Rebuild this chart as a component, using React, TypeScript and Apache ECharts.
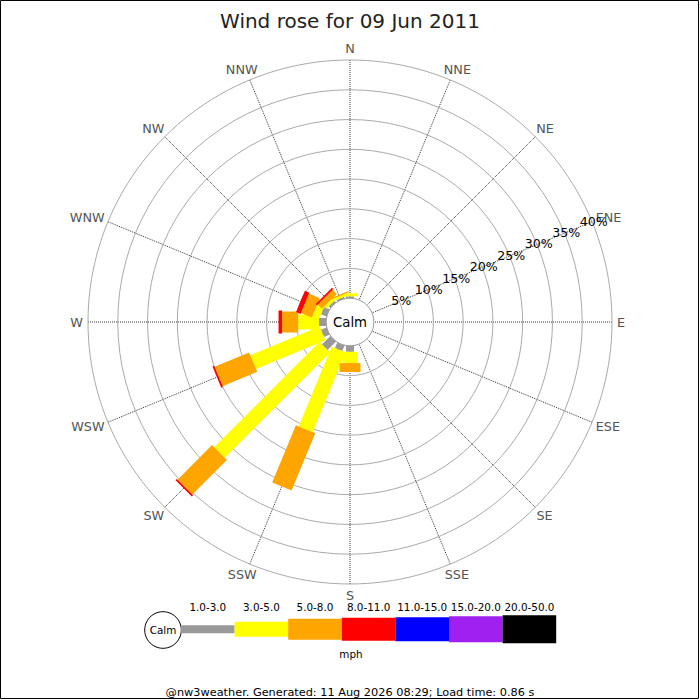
import React, { useEffect, useRef } from 'react';
import * as echarts from 'echarts';

// ---------- data ----------
const titleText = 'Wind rose for 09 Jun 2011';
const footerText = '@nw3weather. Generated: 11 Aug 2026 08:29; Load time: 0.86 s';
const calmLabel = 'Calm';
const unitLabel = 'mph';

const directions = ['N', 'NNE', 'NE', 'ENE', 'E', 'ESE', 'SE', 'SSE', 'S', 'SSW', 'SW', 'WSW', 'W', 'WNW', 'NW', 'NNW'];
const speedRanges = ['1.0-3.0', '3.0-5.0', '5.0-8.0', '8.0-11.0', '11.0-15.0', '15.0-20.0', '20.0-50.0'];

// percentage of time per direction for each speed range (order = directions)
const pct1to3 = [0.3, 0, 0, 0, 0, 0, 0, 0, 1.0, 1.0, 2.0, 1.0, 1.2, 1.0, 0.4, 0.3];
const pct3to5 = [0.5, 0, 0, 0, 0, 0, 0, 0, 1.9, 14.5, 25.0, 12.6, 3.5, 1.2, 0.5, 0.4];
const pct5to8 = [0, 0, 0, 0, 0, 0, 0, 0, 1.5, 10.4, 8.2, 6.3, 2.7, 2.0, 1.0, 0.2];
const pct8to11 = [0, 0, 0, 0, 0, 0, 0, 0, 0, 0, 0.3, 0.3, 0.6, 0.8, 0.3, 0];
const pct11to15 = [0, 0, 0, 0, 0, 0, 0, 0, 0, 0, 0, 0, 0, 0, 0, 0];
const pct15to20 = [0, 0, 0, 0, 0, 0, 0, 0, 0, 0, 0, 0, 0, 0, 0, 0];
const pct20to50 = [0, 0, 0, 0, 0, 0, 0, 0, 0, 0, 0, 0, 0, 0, 0, 0];

const ringTicks = [5, 10, 15, 20, 25, 30, 35, 40];
const radiusLabelDirection = 'ENE';

// ---------- styles ----------
const rangeColors = ['#999999', '#ffff00', '#ffa500', '#ff0000', '#0000ff', '#a020f0', '#000000'];
const rangeWidths = [8, 15, 21, 23, 24, 26, 28];
const FONT = 'DejaVu Sans';
const DIR_FONT_SIZE = 12.8;
const DIR_LABEL_GAP = 5;
const RMIN = -4; // radius-axis value at the centre (calm circle = 0 %)
const RMAX = 40;

const allRanges = [pct1to3, pct3to5, pct5to8, pct8to11, pct11to15, pct15to20, pct20to50];

function buildLegData() {
  const out: number[][][] = allRanges.map(() => []);
  directions.forEach((_, d) => {
    let cum = 0;
    allRanges.forEach((arr, s) => {
      const v = arr[d];
      if (v > 0) {
        const start = cum === 0 ? RMIN : cum;
        out[s].push([d, start, cum + v]);
        cum += v;
      }
    });
  });
  return out;
}

function measure(text: string, size: number) {
  const cv = document.createElement('canvas');
  const ctx = cv.getContext('2d');
  if (!ctx) return text.length * size * 0.65;
  ctx.font = `${size}px "${FONT}"`;
  return ctx.measureText(text).width;
}

export default function App() {
  const ref = useRef<HTMLDivElement>(null);

  useEffect(() => {
    document.body.style.margin = '0';
    if (!ref.current) return;
    const chart = echarts.init(ref.current, undefined, { renderer: 'svg' });
    const legData = buildLegData();
    const enIdx = directions.indexOf(radiusLabelDirection);
    const dirWidths = directions.map((d) => measure(d, DIR_FONT_SIZE));

    const legSeries = legData.map((data, s) => ({
      type: 'custom',
      coordinateSystem: 'polar',
      silent: true,
      z: 3,
      dimensions: ['dir', 'from', 'to'],
      encode: { angle: 0, radius: [1, 2] },
      data,
      renderItem: (params: any, api: any) => {
        const d = api.value(0);
        const r0 = api.value(1);
        const r1 = api.value(2);
        const c = api.coord([RMIN, d]);
        const a = api.coord([r0, d]);
        const b = api.coord([r1, d]);
        let ux = b[0] - c[0];
        let uy = b[1] - c[1];
        const L = Math.hypot(ux, uy) || 1;
        ux /= L;
        uy /= L;
        const h = rangeWidths[s] / 2;
        const nx = -uy * h;
        const ny = ux * h;
        return {
          type: 'polygon',
          shape: {
            points: [
              [a[0] + nx, a[1] + ny],
              [b[0] + nx, b[1] + ny],
              [b[0] - nx, b[1] - ny],
              [a[0] - nx, a[1] - ny],
            ],
          },
          style: { fill: rangeColors[s] },
        };
      },
    }));

    const ringSeries = {
      type: 'custom',
      coordinateSystem: 'polar',
      silent: true,
      z: 1,
      dimensions: ['dir', 'r'],
      encode: { angle: 0, radius: 1 },
      data: ringTicks.map((v) => [0, v]),
      renderItem: (params: any, api: any) => {
        const c = api.coord([RMIN, 0]);
        const p = api.coord([api.value(1), 0]);
        return {
          type: 'circle',
          shape: { cx: c[0], cy: c[1], r: Math.hypot(p[0] - c[0], p[1] - c[1]) },
          style: { fill: 'none', stroke: '#aaaaaa', lineWidth: 1 },
        };
      },
    };

    const dirLabelSeries = {
      type: 'custom',
      coordinateSystem: 'polar',
      silent: true,
      z: 6,
      dimensions: ['dir', 'r'],
      encode: { angle: 0, radius: 1 },
      data: directions.map((_, i) => [i, RMAX]),
      renderItem: (params: any, api: any) => {
        const i = params.dataIndex;
        const c = api.coord([RMIN, i]);
        const o = api.coord([RMAX, i]);
        let ux = o[0] - c[0];
        let uy = o[1] - c[1];
        const L = Math.hypot(ux, uy) || 1;
        ux /= L;
        uy /= L;
        const w = dirWidths[i];
        const h = DIR_FONT_SIZE;
        const x = o[0] + ux * DIR_LABEL_GAP + (ux * w) / 2;
        const y = o[1] + uy * DIR_LABEL_GAP + (uy * h) / 2;
        return {
          type: 'text',
          x,
          y,
          style: {
            text: directions[i],
            fill: '#555',
            fontSize: DIR_FONT_SIZE,
            fontFamily: FONT,
            align: 'center',
            verticalAlign: 'middle',
          },
        };
      },
    };

    const ringLabelSeries = {
      type: 'custom',
      coordinateSystem: 'polar',
      silent: true,
      z: 7,
      dimensions: ['dir', 'r'],
      encode: { angle: 0, radius: 1 },
      data: ringTicks.map((v) => [enIdx, v]),
      renderItem: (params: any, api: any) => {
        const p = api.coord([api.value(1) + 0.3, api.value(0)]);
        return {
          type: 'text',
          x: p[0],
          y: p[1],
          style: {
            text: ringTicks[params.dataIndex] + '%',
            fill: '#000',
            fontSize: 12.6,
            fontFamily: FONT,
            align: 'center',
            verticalAlign: 'middle',
          },
        };
      },
    };

    const calmSeries = {
      type: 'custom',
      coordinateSystem: 'polar',
      silent: true,
      z: 5,
      dimensions: ['dir', 'r'],
      encode: { angle: 0, radius: 1 },
      data: [[0, 0]],
      renderItem: (params: any, api: any) => {
        const c = api.coord([RMIN, 0]);
        const e = api.coord([0, 0]);
        const r = Math.hypot(e[0] - c[0], e[1] - c[1]);
        return {
          type: 'group',
          children: [
            {
              type: 'circle',
              shape: { cx: c[0], cy: c[1], r },
              style: { fill: '#fff', stroke: '#999', lineWidth: 1 },
            },
            {
              type: 'text',
              x: c[0],
              y: c[1],
              style: {
                text: calmLabel,
                fill: '#000',
                fontSize: 13.3,
                fontFamily: FONT,
                align: 'center',
                verticalAlign: 'middle',
              },
            },
          ],
        };
      },
    };

    // legend graphics
    const legX0 = 181;
    const legStep = 53.6;
    const legCy = 629.3;
    const legendEls: any[] = [
      {
        type: 'circle',
        shape: { cx: 163, cy: 630, r: 18.3 },
        style: { fill: '#fff', stroke: '#000', lineWidth: 1 },
      },
      {
        type: 'text',
        x: 163,
        y: 630,
        style: { text: calmLabel, fill: '#000', fontSize: 10.4, fontFamily: FONT, align: 'center', verticalAlign: 'middle' },
      },
    ];
    speedRanges.forEach((lab, i) => {
      const x = legX0 + i * legStep;
      legendEls.push({
        type: 'rect',
        shape: { x, y: legCy - rangeWidths[i] / 2, width: legStep, height: rangeWidths[i] },
        style: { fill: rangeColors[i] },
      });
      legendEls.push({
        type: 'text',
        x: x + legStep / 2,
        y: 606.7,
        style: { text: lab, fill: '#000', fontSize: 10.4, fontFamily: FONT, align: 'center', verticalAlign: 'middle' },
      });
    });
    legendEls.push({
      type: 'text',
      x: 351,
      y: 654,
      style: { text: unitLabel, fill: '#000', fontSize: 10.4, fontFamily: FONT, align: 'center', verticalAlign: 'middle' },
    });

    chart.setOption({
      animation: false,
      backgroundColor: '#fff',
      title: {
        text: titleText,
        left: 'center',
        top: 6,
        textStyle: { fontSize: 20, fontWeight: 'normal', color: '#222', fontFamily: FONT },
      },
      polar: { center: [350, 322], radius: 262 },
      radiusAxis: {
        type: 'value',
        min: RMIN,
        max: RMAX,
        show: false,
      },
      angleAxis: {
        type: 'category',
        data: directions,
        boundaryGap: false,
        startAngle: 90,
        clockwise: true,
        axisLine: { show: false },
        axisTick: { show: false },
        axisLabel: { show: false },
        splitLine: { show: true, interval: 0, lineStyle: { color: '#333', type: 'dotted', width: 1 } },
      },
      series: [ringSeries, ...legSeries, calmSeries, dirLabelSeries, ringLabelSeries],
      graphic: [
        {
          type: 'rect',
          shape: { x: 0.5, y: 0.5, width: 698, height: 698 },
          style: { fill: 'none', stroke: '#000', lineWidth: 1 },
          silent: true,
        },
        ...legendEls,
        {
          type: 'text',
          x: 350,
          y: 692.7,
          style: { text: footerText, fill: '#000', fontSize: 11.3, fontFamily: FONT, align: 'center', verticalAlign: 'middle' },
        },
      ],
    });

    return () => chart.dispose();
  }, []);

  return <div ref={ref} style={{ width: 700, height: 700 }} />;
}
